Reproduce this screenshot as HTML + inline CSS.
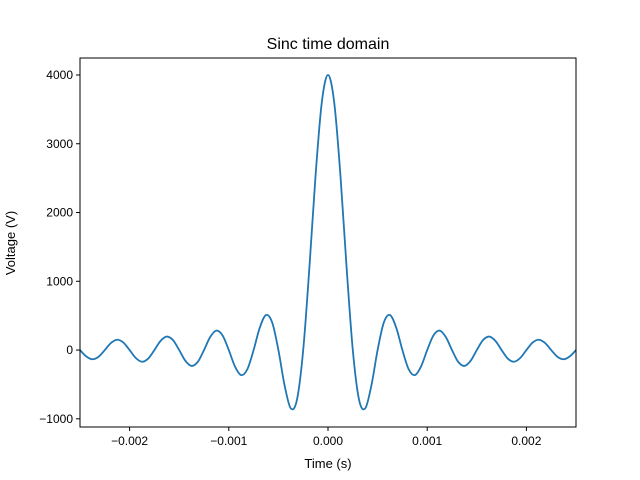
<!DOCTYPE html>
<html><head><meta charset="utf-8"><style>
body{margin:0;background:#fff;}
svg{display:block;font-family:"Liberation Sans","DejaVu Sans",sans-serif;}
</style></head><body>
<svg id="chart" width="640" height="480">
<rect x="0" y="0" width="640" height="480" fill="#fff"/>
<text x="328" y="49" font-size="16" text-anchor="middle">Sinc time domain</text>
<text x="328" y="468" font-size="13" text-anchor="middle">Time (s)</text>
<text transform="translate(15,243) rotate(-90)" font-size="13" text-anchor="middle">Voltage (V)</text>
<g id="ticks"></g>
<path id="line" fill="none" stroke="#1f77b4" stroke-width="1.8"/>
<rect x="80" y="58" width="496" height="369" fill="none" stroke="#000" stroke-width="1"/>
</svg>
<script>
const xStep = 0.0000625;
const halfValues = [4000,3601,2546,1200,0,-720,-849,-514,0,400,509,327,0,-277,-364,-240,0,212,283,190,0,-171,-231,-157,0,144,196,133,0,-124,-170,-116,0,109,150,103,0,-97,-134,-92,0];
const xTicks = [-0.002,-0.001,0,0.001,0.002];
const xTickLabels = ["\u22120.002","\u22120.001","0.000","0.001","0.002"];
const yTicks = [-1000,0,1000,2000,3000,4000];
const yTickLabels = ["\u22121000","0","1000","2000","3000","4000"];

const L=80,R=576,T=58,B=427, xmin=-0.0025,xmax=0.0025, ymin=-1119,ymax=4247;
const sx=v=>L+(v-xmin)/(xmax-xmin)*(R-L);
const sy=v=>B-(v-ymin)/(ymax-ymin)*(B-T);
const NS="http://www.w3.org/2000/svg";
const g=document.getElementById('ticks');
function mk(tag,attrs){const e=document.createElementNS(NS,tag);for(const k in attrs)e.setAttribute(k,attrs[k]);return e;}
xTicks.forEach((v,i)=>{
  const x=sx(v);
  const t=mk('line',{x1:x,x2:x,y1:B,y2:B+4,stroke:'#000'});
  
  
  g.appendChild(t);
  const l=mk('text',{x:x,y:B+18,'font-size':12,'text-anchor':'middle'});
  
  
  l.textContent=xTickLabels[i];g.appendChild(l);
});
yTicks.forEach((v,i)=>{
  const y=sy(v);
  const t=mk('line',{x1:L-4,x2:L,y1:y,y2:y,stroke:'#000'});
  
  
  g.appendChild(t);
  const l=mk('text',{x:L-7,y:y+4,'font-size':12,'text-anchor':'end'});
  
  
  l.textContent=yTickLabels[i];g.appendChild(l);
});
// build full symmetric series
const n=halfValues.length-1;
const pts=[];
for(let k=-n;k<=n;k++){pts.push([sx(k*xStep),sy(halfValues[Math.abs(k)])]);}
let d='M'+pts[0][0]+','+pts[0][1];
for(let i=0;i<pts.length-1;i++){
  const p0=pts[Math.max(0,i-1)],p1=pts[i],p2=pts[i+1],p3=pts[Math.min(pts.length-1,i+2)];
  const c1=[p1[0]+(p2[0]-p0[0])/6,p1[1]+(p2[1]-p0[1])/6];
  const c2=[p2[0]-(p3[0]-p1[0])/6,p2[1]-(p3[1]-p1[1])/6];
  d+=`C${c1[0]},${c1[1]} ${c2[0]},${c2[1]} ${p2[0]},${p2[1]}`;
}
document.getElementById('line').setAttribute('d',d);
</script>
</body></html>
